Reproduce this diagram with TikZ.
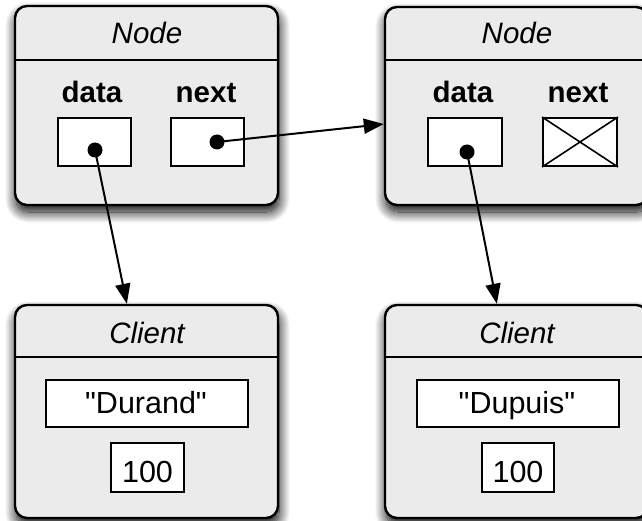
\documentclass[tikz,border=0pt]{standalone}
\usepackage{fontspec}
\setmainfont{Liberation Sans}[Ligatures=TeXOff]
\usetikzlibrary{arrows.meta,shadows.blur}

\definecolor{panel}{HTML}{EBEBEB}

\tikzset{
  objbox/.style={draw=black, line width=2.4pt, fill=panel, rounded corners=12pt,
    inner sep=0pt, minimum width=263pt,
    blur shadow={shadow xshift=1pt, shadow yshift=-7pt, shadow blur radius=11pt,
      shadow opacity=100, shadow blur steps=16}},
  slot/.style={draw=black, line width=2pt, fill=white, inner sep=0pt},
  divider/.style={line width=2.4pt},
  ptr/.style={circle, fill=black, inner sep=0pt, minimum size=15pt},
  link/.style={line width=2pt, -{Triangle[length=20pt,width=15pt]}},
  title/.style={font=\itshape\fontsize{29.5}{31}\selectfont, anchor=base},
  field/.style={font=\bfseries\fontsize{29.5}{31}\selectfont, anchor=base},
  value/.style={font=\fontsize{30.5}{32}\selectfont, anchor=base},
}

\begin{document}
\begin{tikzpicture}[x=1pt,y=-1pt]
\useasboundingbox (0,0) rectangle (642,521);
\clip (0,0) rectangle (642,521);

% ---- list cells ----
\node[objbox, minimum height=199pt] (n1) at (146.5,105.5) {};
\node[objbox, minimum height=198pt] (n2) at (516.5,106) {};
% ---- client records ----
\node[objbox, minimum height=213pt] (c1) at (146.5,411.5) {};
\node[objbox, minimum height=213pt] (c2) at (516.5,411.5) {};

% header separators
\draw[divider] (n1.west |- 0,60) -- (n1.east |- 0,60);
\draw[divider] (n2.west |- 0,60) -- (n2.east |- 0,60);
\draw[divider] (c1.west |- 0,357) -- (c1.east |- 0,357);
\draw[divider] (c2.west |- 0,357) -- (c2.east |- 0,357);

% titles
\node[title] (n1t) at (147,44) {Node};
\node[title] (n2t) at (517,44) {Node};
\node[title] (c1t) at (147,343) {Client};
\node[title] (c2t) at (517,343) {Client};

% field labels
\node[field] (n1dl) at (92,103) {data};
\node[field] (n1nl) at (206,103) {next};
\node[field] (n2dl) at (463,103) {data};
\node[field] (n2nl) at (578,103) {next};

% pointer slots
\node[slot, minimum width=73pt, minimum height=48pt] (n1d) at (94.5,142) {};
\node[slot, minimum width=73pt, minimum height=48pt] (n1n) at (207.5,142) {};
\node[slot, minimum width=74pt, minimum height=48pt] (n2d) at (465,142) {};
\node[slot, minimum width=74pt, minimum height=48pt] (n2n) at (580,142) {};
% null pointer
\draw[line width=1.6pt] (n2n.north west) -- (n2n.south east)
                        (n2n.south west) -- (n2n.north east);

% client fields
\node[slot, minimum width=202pt, minimum height=47pt] (c1name) at (147,403.5) {};
\node[slot, minimum width=73pt, minimum height=49pt] (c1val) at (147.5,467.5) {};
\node[slot, minimum width=202pt, minimum height=47pt] (c2name) at (518,403.5) {};
\node[slot, minimum width=72pt, minimum height=49pt] (c2val) at (518,467.5) {};
\node[value] at (146,413) {"Durand"};
\node[value] at (147.5,482) {100};
\node[value] at (517,413) {"Dupuis"};
\node[value] at (518,482) {100};

% arrow targets on the box edges
\path (n2.north west) -- (n2.south west) coordinate[pos=0.59] (n2in);
\path (c1.north west) -- (c1.north east) coordinate[pos=0.426] (c1in);
\path (c2.north west) -- (c2.north east) coordinate[pos=0.426] (c2in);

% pointer dots
\coordinate (p1d) at (95,150);
\coordinate (p1n) at (217,142);
\coordinate (p2d) at (467,152);

\draw[link] (p1n) -- (n2in);
\draw[link] (p1d) -- (c1in);
\draw[link] (p2d) -- (c2in);

\node[ptr] (d1) at (p1d) {};
\node[ptr] (d2) at (p1n) {};
\node[ptr] (d3) at (p2d) {};
\end{tikzpicture}
\end{document}
